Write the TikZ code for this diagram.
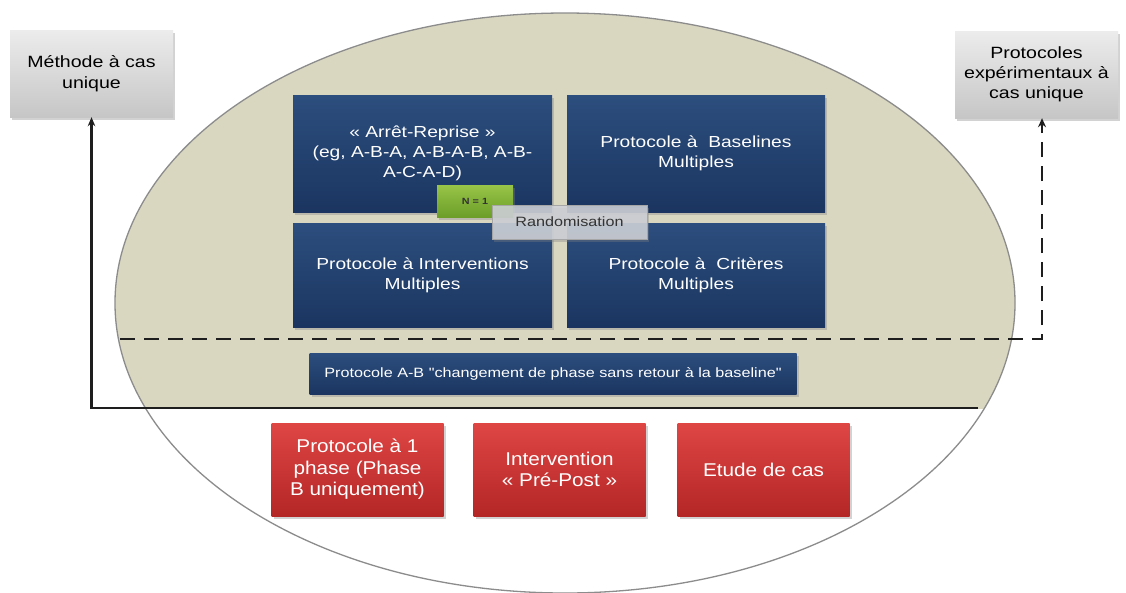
\documentclass[tikz,border=0pt]{standalone}
\usepackage{fontspec}
\setmainfont{Liberation Sans}
\newfontfamily\wideB{Liberation Sans}[FakeStretch=1.2]
\newfontfamily\wideR{Liberation Sans}[FakeStretch=1.12]
\usetikzlibrary{shadows,arrows.meta}
\definecolor{beige}{RGB}{218,215,193}
\definecolor{ellgray}{RGB}{140,140,140}
\definecolor{blueT}{RGB}{44,78,126}
\definecolor{blueB}{RGB}{27,53,96}
\definecolor{redT}{RGB}{222,70,68}
\definecolor{redB}{RGB}{180,38,38}
\definecolor{grayT}{RGB}{236,236,236}
\definecolor{grayB}{RGB}{198,198,198}
\definecolor{greenT}{RGB}{152,196,72}
\definecolor{greenB}{RGB}{108,158,40}
\definecolor{randfill}{RGB}{206,209,215}
\definecolor{linedark}{RGB}{30,30,30}
\begin{document}
\begin{tikzpicture}[x=1pt,y=-1pt,
  box/.style={draw=none, inner sep=0pt, align=center,
    drop shadow={shadow xshift=2pt,shadow yshift=-2.5pt,opacity=0.35}},
  bluebox/.style={box, top color=blueT, bottom color=blueB, text=white,
    font=\wideB\fontsize{16}{20}\selectfont},
  redbox/.style={box, top color=redT, bottom color=redB, text=white,
    minimum width=172pt, minimum height=93pt,
    font=\wideR\fontsize{18.5}{21.5}\selectfont},
  graybox/.style={box, top color=grayT, bottom color=grayB, text=black,
    minimum width=163pt, minimum height=87pt},
  solidconn/.style={draw=linedark, line width=2.2pt, -{Stealth[length=9pt,width=7.5pt]}},
  dashconn/.style={draw=linedark, line width=2.8pt, dash pattern=on 15pt off 9pt,
    -{Stealth[length=9pt,width=8pt]}}
]
\useasboundingbox (0,0) rectangle (1126,592);
\fill[white] (0,0) rectangle (1126,592);

% ellipse: beige upper part, white lower part
\begin{scope}
  \clip (0,0) rectangle (1126,408);
  \fill[beige] (565,303) ellipse [x radius=450, y radius=290];
\end{scope}
\draw[ellgray, line width=1.3pt] (565,303) ellipse [x radius=450, y radius=290];

% gray boxes
\node[graybox, font=\wideB\fontsize{16.3}{21.5}\selectfont] (meth) at (91.5,73.5) {Méthode à cas\\unique};
\node[graybox, font=\wideB\fontsize{16.3}{20}\selectfont] (prot) at (1036.5,74.5) {Protocoles\\expérimentaux à\\cas unique};

% connectors
\coordinate (sR) at (978,408);
\draw[solidconn] (sR) -| (meth);
\coordinate (dL) at (120,339);
\draw[dashconn] (dL) -| ([xshift=5.5pt]prot.south);

% blue boxes
\node[bluebox, minimum width=259pt, minimum height=117pt] (b1) at (422.5,153.5)
  {« Arrêt-Reprise »\\(eg, A-B-A, A-B-A-B, A-B-\\A-C-A-D)};
\node[bluebox, minimum width=258pt, minimum height=117pt] (b2) at (696,153.5)
  {Protocole à~ Baselines\\Multiples};
\node[bluebox, minimum width=259pt, minimum height=104pt] (b3) at (422.5,275)
  {Protocole à Interventions\\Multiples};
\node[bluebox, minimum width=258pt, minimum height=104pt] (b4) at (696,275)
  {Protocole à~ Critères\\Multiples};
\node[bluebox, minimum width=487pt, minimum height=41pt, font=\wideB\fontsize{13.5}{16}\selectfont] (ab) at (553,373.5)
  {Protocole A-B "changement de phase sans retour à la baseline"};

% small boxes
\node[box, top color=greenT, bottom color=greenB, minimum width=76pt, minimum height=32pt,
  text=black!80, font=\wideB\bfseries\fontsize{9}{11}\selectfont] (n1) at (475,201) {N = 1};
\node[box, fill=randfill, fill opacity=0.88, text opacity=1, draw=gray!70, line width=0.5pt,
  minimum width=155pt, minimum height=34pt, text=black!80,
  font=\wideB\fontsize{13.5}{16}\selectfont] (rand) at (569.5,222) {Randomisation};

% red boxes
\node[redbox] (r1) at (357.5,469.5) {Protocole à 1\\phase (Phase\\B uniquement)};
\node[redbox] (r2) at (559.5,469.5) {Intervention\\« Pré-Post »};
\node[redbox] (r3) at (763.5,469.5) {Etude de cas};
\end{tikzpicture}
\end{document}
